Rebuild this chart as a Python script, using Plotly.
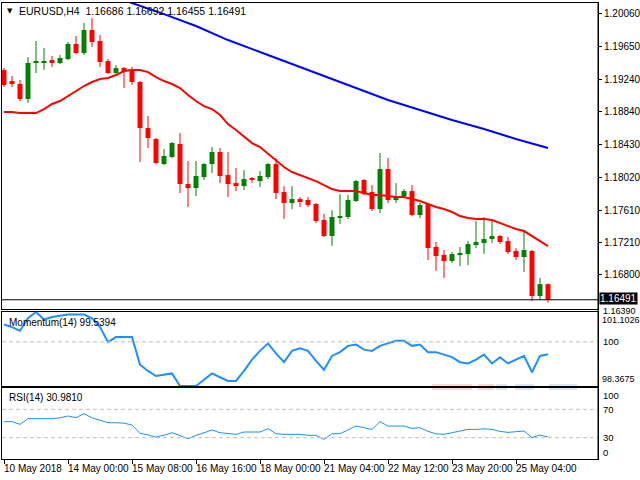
import plotly.graph_objects as go

W, H = 640, 480

# ---------------- data ----------------
opens = [1.19355, 1.19218, 1.19181, 1.18994, 1.19443, 1.19455, 1.19480, 1.19443, 1.19492, 1.19680,
         1.19567, 1.19854, 1.19717, 1.19467, 1.19318, 1.19380, 1.19343, 1.19206, 1.18632, 1.18495,
         1.18183, 1.18271, 1.18433, 1.17934, 1.17884, 1.18021, 1.18183, 1.18333, 1.18046, 1.17946,
         1.17909, 1.18009, 1.17971, 1.18021, 1.18183, 1.17834, 1.17697, 1.17747, 1.17735, 1.17685,
         1.17485, 1.17286, 1.17510, 1.17523, 1.17722, 1.17984, 1.17834, 1.17622, 1.18121, 1.17735,
         1.17784, 1.17846, 1.17548, 1.17685, 1.17149, 1.17049, 1.16974, 1.17049, 1.17061, 1.17174,
         1.17198, 1.17248, 1.17286, 1.17223, 1.17099, 1.17024, 1.17099, 1.16538, 1.16686]
highs = [1.19380, 1.19281, 1.19231, 1.19517, 1.19717, 1.19630, 1.19530, 1.19542, 1.19705, 1.19779,
         1.19941, 1.20004, 1.19792, 1.19492, 1.19418, 1.19393, 1.19393, 1.19218, 1.18782, 1.18508,
         1.18370, 1.18458, 1.18570, 1.18221, 1.18221, 1.18196, 1.18395, 1.18383, 1.18333, 1.18134,
         1.18109, 1.18021, 1.18096, 1.18196, 1.18258, 1.17909, 1.17909, 1.17772, 1.17772, 1.17697,
         1.17560, 1.17610, 1.17809, 1.17797, 1.17984, 1.17996, 1.17921, 1.18321, 1.18258, 1.17946,
         1.17871, 1.17921, 1.17697, 1.17697, 1.17211, 1.17111, 1.17086, 1.17149, 1.17223, 1.17473,
         1.17523, 1.17473, 1.17298, 1.17273, 1.17136, 1.17348, 1.17111, 1.16762, 1.16692]
lows = [1.19143, 1.19143, 1.18969, 1.18944, 1.19318, 1.19355, 1.19393, 1.19430, 1.19480, 1.19555,
        1.19542, 1.19642, 1.19393, 1.19306, 1.19293, 1.19131, 1.19168, 1.18208, 1.18383, 1.18183,
        1.18171, 1.18258, 1.17822, 1.17647, 1.17784, 1.17984, 1.18071, 1.17946, 1.17772, 1.17846,
        1.17859, 1.17946, 1.17896, 1.17996, 1.17747, 1.17498, 1.17622, 1.17647, 1.17647, 1.17448,
        1.17273, 1.17161, 1.17436, 1.17498, 1.17710, 1.17797, 1.17597, 1.17573, 1.17697, 1.17697,
        1.17772, 1.17535, 1.17510, 1.16987, 1.16850, 1.16762, 1.16949, 1.16912, 1.16924, 1.17136,
        1.17061, 1.17198, 1.17186, 1.17061, 1.16987, 1.16837, 1.16476, 1.16488, 1.16455]
closes = [1.19168, 1.19181, 1.18994, 1.19443, 1.19467, 1.19467, 1.19443, 1.19505, 1.19680, 1.19567,
          1.19854, 1.19705, 1.19455, 1.19318, 1.19380, 1.19343, 1.19206, 1.18632, 1.18508, 1.18196,
          1.18283, 1.18445, 1.17934, 1.17884, 1.18034, 1.18183, 1.18333, 1.18034, 1.17934, 1.17909,
          1.17996, 1.17984, 1.18034, 1.18183, 1.17822, 1.17697, 1.17747, 1.17710, 1.17672, 1.17473,
          1.17286, 1.17523, 1.17535, 1.17735, 1.17971, 1.17809, 1.17622, 1.18121, 1.17735, 1.17772,
          1.17846, 1.17548, 1.17672, 1.17136, 1.17036, 1.16974, 1.17061, 1.17074, 1.17186, 1.17211,
          1.17248, 1.17286, 1.17211, 1.17086, 1.17024, 1.17111, 1.16538, 1.16686, 1.16491]

ma_red = [1.18832, 1.18832, 1.18819, 1.18819, 1.18819, 1.18869, 1.18932, 1.18969, 1.19031, 1.19093,
          1.19156, 1.19206, 1.19243, 1.19256, 1.19293, 1.19343, 1.19355, 1.19355, 1.19330, 1.19268,
          1.19218, 1.19181, 1.19131, 1.19044, 1.18969, 1.18906, 1.18869, 1.18794, 1.18682, 1.18607,
          1.18520, 1.18445, 1.18395, 1.18308, 1.18221, 1.18146, 1.18084, 1.18046, 1.18009, 1.17971,
          1.17921, 1.17871, 1.17846, 1.17846, 1.17846, 1.17822, 1.17797, 1.17797, 1.17784, 1.17772,
          1.17772, 1.17747, 1.17722, 1.17685, 1.17647, 1.17622, 1.17585, 1.17535, 1.17510, 1.17498,
          1.17498, 1.17485, 1.17448, 1.17411, 1.17373, 1.17348, 1.17286, 1.17223, 1.17161]

ma_blue_idx = [0, 4, 8, 12, 16, 20, 24, 28, 32, 36, 40, 44, 48, 52, 56, 60, 64, 68]
ma_blue = [1.20752, 1.20602, 1.20465, 1.20328, 1.20191, 1.20053, 1.19904, 1.19729, 1.19580,
           1.19430, 1.19281, 1.19131, 1.18981, 1.18857, 1.18732, 1.18620, 1.18495, 1.18383]

momentum = [100.639, 100.546, 100.407, 100.871, 101.1026, 100.824, 100.917, 100.963, 101.010, 101.010,
            101.010, 100.871, 100.546, 99.990, 100.175, 100.175, 100.175, 99.156, 98.924, 98.738,
            98.785, 98.831, 98.3675, 98.3675, 98.370, 98.599, 98.831, 98.692, 98.553, 98.553,
            98.924, 99.341, 99.666, 99.944, 99.573, 99.248, 99.666, 99.758, 99.666, 99.295,
            98.970, 99.480, 99.619, 99.851, 99.897, 99.712, 99.666, 99.851, 99.944, 100.036,
            100.036, 99.851, 99.897, 99.619, 99.619, 99.526, 99.434, 99.248, 99.202, 99.341,
            99.526, 99.202, 99.434, 99.202, 99.341, 99.480, 98.877, 99.480, 99.5394]

rsi = [52.6, 52.6, 48.8, 56.8, 56.8, 56.8, 56.8, 58.0, 60.6, 58.2,
       63.9, 58.0, 54.0, 51.1, 51.1, 50.5, 47.8, 36.1, 34.0, 30.9,
       33.5, 37.0, 33.0, 28.5, 33.3, 37.5, 40.8, 37.0, 35.5, 34.7,
       38.0, 38.0, 38.0, 42.7, 35.6, 34.7, 34.7, 34.7, 33.5, 33.3,
       27.6, 35.6, 35.6, 41.0, 46.4, 44.0, 41.7, 52.6, 46.4, 46.4,
       46.4, 43.1, 44.1, 38.9, 35.5, 34.7, 37.0, 39.4, 41.7, 41.7,
       42.5, 41.7, 38.9, 37.5, 38.9, 39.4, 30.0, 33.7, 30.981]

price_ticks = [1.20060, 1.19650, 1.19240, 1.18840, 1.18430, 1.18020, 1.17610, 1.17210, 1.16800]
date_idx = [0, 8, 16, 24, 32, 40, 48, 56, 64]
date_labels = ["10 May 2018", "14 May 00:00", "15 May 08:00", "16 May 16:00", "18 May 00:00",
               "21 May 04:00", "22 May 12:00", "23 May 20:00", "25 May 04:00"]
header = "EURUSD,H4\u00a0\u00a01.16686 1.16692 1.16455 1.16491"
bid_price = 1.16491
bottom_price = 1.16390
mom_max, mom_min, mom_level = 101.1026, 98.3675, 100.0
rsi_levels = [70, 30]

# ---------------- layout helpers ----------------
def fx(p):
    return p / W

def fy(p):
    return 1 - p / H

FONT = "Liberation Sans, Arial, sans-serif"
GREEN = "#008000"
RED = "#FF0000"
BLUE_LINE = "#1E90FF"

x_dom = [fx(2), fx(598)]
x_rng = [-0.25, 74.25]

fig = go.Figure()

n = len(opens)
idx = list(range(n))
up = [i for i in idx if closes[i] >= opens[i]]
dn = [i for i in idx if closes[i] < opens[i]]

def wick_xy(sel):
    xs, ys = [], []
    for i in sel:
        xs += [i, i, None]
        ys += [lows[i], highs[i], None]
    return xs, ys

for sel, col in ((up, GREEN), (dn, RED)):
    wx, wy = wick_xy(sel)
    fig.add_trace(go.Scatter(x=wx, y=wy, mode="lines", line=dict(color=col, width=1),
                             hoverinfo="skip", xaxis="x", yaxis="y"))
    base = [min(opens[i], closes[i]) for i in sel]
    hgt = [max(abs(closes[i] - opens[i]), 0.00009) for i in sel]
    fig.add_trace(go.Bar(x=sel, y=hgt, base=base, width=0.62,
                         marker=dict(color=col, line=dict(width=0)),
                         xaxis="x", yaxis="y"))

fig.add_trace(go.Scatter(x=idx, y=ma_red, mode="lines", line=dict(color=RED, width=2),
                         xaxis="x", yaxis="y"))
fig.add_trace(go.Scatter(x=ma_blue_idx, y=ma_blue, mode="lines", line=dict(color="#0000FF", width=2),
                         xaxis="x", yaxis="y"))

fig.add_trace(go.Scatter(x=idx, y=momentum, mode="lines", line=dict(color=BLUE_LINE, width=2),
                         xaxis="x2", yaxis="y2"))
fig.add_trace(go.Scatter(x=idx, y=rsi, mode="lines", line=dict(color=BLUE_LINE, width=1),
                         xaxis="x3", yaxis="y3"))

axis_common = dict(showgrid=False, zeroline=False, showline=True, mirror=True,
                   linecolor="black", linewidth=1)

fig.update_layout(
    width=W, height=H, margin=dict(l=0, r=0, t=0, b=0),
    paper_bgcolor="white", plot_bgcolor="white", showlegend=False,
    barmode="overlay", font=dict(family=FONT, size=10, color="black"),
    xaxis=dict(domain=x_dom, range=x_rng, anchor="y", showticklabels=False, ticks="", **axis_common),
    xaxis2=dict(domain=x_dom, range=x_rng, anchor="y2", showticklabels=False, ticks="", **axis_common),
    xaxis3=dict(domain=x_dom, range=x_rng, anchor="y3", showticklabels=False, ticks="outside",
                ticklen=4, tickcolor="black", tickvals=date_idx, **axis_common),
    yaxis=dict(domain=[fy(309), fy(3)], range=[1.16376, 1.20191], side="right", anchor="x",
               tickvals=price_ticks, ticktext=[f"{v:.5f}" for v in price_ticks],
               ticks="outside", ticklen=3, tickcolor="black",
               tickfont=dict(family=FONT, size=10, color="black"), **axis_common),
    yaxis2=dict(domain=[fy(386), fy(312)], range=[mom_min, mom_max], side="right", anchor="x2",
                showticklabels=False, ticks="", **axis_common),
    yaxis3=dict(domain=[fy(459), fy(388)], range=[0, 100], side="right", anchor="x3",
                showticklabels=False, ticks="", **axis_common),
)

shapes = []
# faint watermark strips at the momentum window's lower edge
for x0, x1, col in ((432, 472, "rgba(232,150,120,0.35)"), (478, 494, "rgba(232,150,120,0.35)"),
                    (496, 507, "rgba(150,185,215,0.35)"), (515, 534, "rgba(150,185,215,0.35)"),
                    (549, 577, "rgba(150,185,215,0.35)")):
    shapes.append(dict(type="rect", xref="paper", yref="paper", x0=fx(x0), x1=fx(x1),
                       y0=fy(390), y1=fy(384), line=dict(width=0), fillcolor=col, layer="below"))
# bid line
shapes.append(dict(type="line", xref="paper", yref="y", x0=x_dom[0], x1=x_dom[1],
                   y0=bid_price, y1=bid_price, line=dict(color="black", width=1)))
# level lines
shapes.append(dict(type="line", xref="paper", yref="y2", x0=x_dom[0], x1=x_dom[1],
                   y0=mom_level, y1=mom_level, line=dict(color="#C0C0C0", width=1, dash="4px,3px")))
for lv in rsi_levels:
    shapes.append(dict(type="line", xref="paper", yref="y3", x0=x_dom[0], x1=x_dom[1],
                       y0=lv, y1=lv, line=dict(color="#C0C0C0", width=1, dash="4px,3px")))
# continuous right scale line
shapes.append(dict(type="line", xref="paper", yref="paper", x0=fx(598), x1=fx(598),
                   y0=fy(459), y1=fy(3), line=dict(color="black", width=1)))
fig.update_layout(shapes=shapes)

SMALL = dict(family=FONT, size=9.5, color="black")
TINY = dict(family=FONT, size=9, color="black")
ann = []
ann.append(dict(text="\u25BC", x=fx(10), y=fy(11), xref="paper", yref="paper", showarrow=False,
                xanchor="center", yanchor="middle", font=dict(family="DejaVu Sans", size=7, color="black")))
ann.append(dict(text=header, x=fx(17), y=fy(11), xref="paper", yref="paper", showarrow=False,
                xanchor="left", yanchor="middle", font=dict(family=FONT, size=10.5, color="black")))
ann.append(dict(text="Momentum(14) 99.5394", x=fx(7), y=fy(322), xref="paper", yref="paper",
                showarrow=False, xanchor="left", yanchor="middle", font=dict(family=FONT, size=10)))
ann.append(dict(text="RSI(14) 30.9810", x=fx(7), y=fy(397), xref="paper", yref="paper",
                showarrow=False, xanchor="left", yanchor="middle", font=dict(family=FONT, size=10)))

# right labels for sub-windows
ann.append(dict(text=f"{mom_max:.4f}", x=fx(600), y=mom_max, xref="paper", yref="y2", yshift=-8,
                showarrow=False, xanchor="left", yanchor="middle", font=TINY))
ann.append(dict(text="100", x=fx(601), y=mom_level, xref="paper", yref="y2",
                showarrow=False, xanchor="left", yanchor="middle", font=SMALL))
ann.append(dict(text=f"{mom_min:.4f}", x=fx(600), y=mom_min, xref="paper", yref="y2", yshift=7,
                showarrow=False, xanchor="left", yanchor="middle", font=TINY))
ann.append(dict(text="100", x=fx(601), y=100, xref="paper", yref="y3", yshift=-7,
                showarrow=False, xanchor="left", yanchor="middle", font=SMALL))
for lv in rsi_levels:
    ann.append(dict(text=str(lv), x=fx(601), y=lv, xref="paper", yref="y3",
                    showarrow=False, xanchor="left", yanchor="middle", font=SMALL))
ann.append(dict(text="0", x=fx(601), y=0, xref="paper", yref="y3", yshift=7,
                showarrow=False, xanchor="left", yanchor="middle", font=SMALL))

# bottom price label then bid box on top
ann.append(dict(text=f"{bottom_price:.5f}", x=fx(601), y=bottom_price, xref="paper", yref="y",
                yshift=-3, showarrow=False, xanchor="left", yanchor="middle", font=TINY))
ann.append(dict(text=f"{bid_price:.5f}", x=fx(599), y=bid_price, xref="paper", yref="y",
                yshift=1, showarrow=False, xanchor="left", yanchor="middle", bgcolor="black", borderpad=0,
                font=dict(family=FONT, size=10, color="white")))

for i, lab in zip(date_idx, date_labels):
    ann.append(dict(text=lab, x=i, y=fy(468), xref="x3", yref="paper", showarrow=False,
                    xanchor="left", yanchor="middle", xshift=-2, font=dict(family=FONT, size=10)))

fig.update_layout(annotations=ann)

fig.write_html("out.html")
